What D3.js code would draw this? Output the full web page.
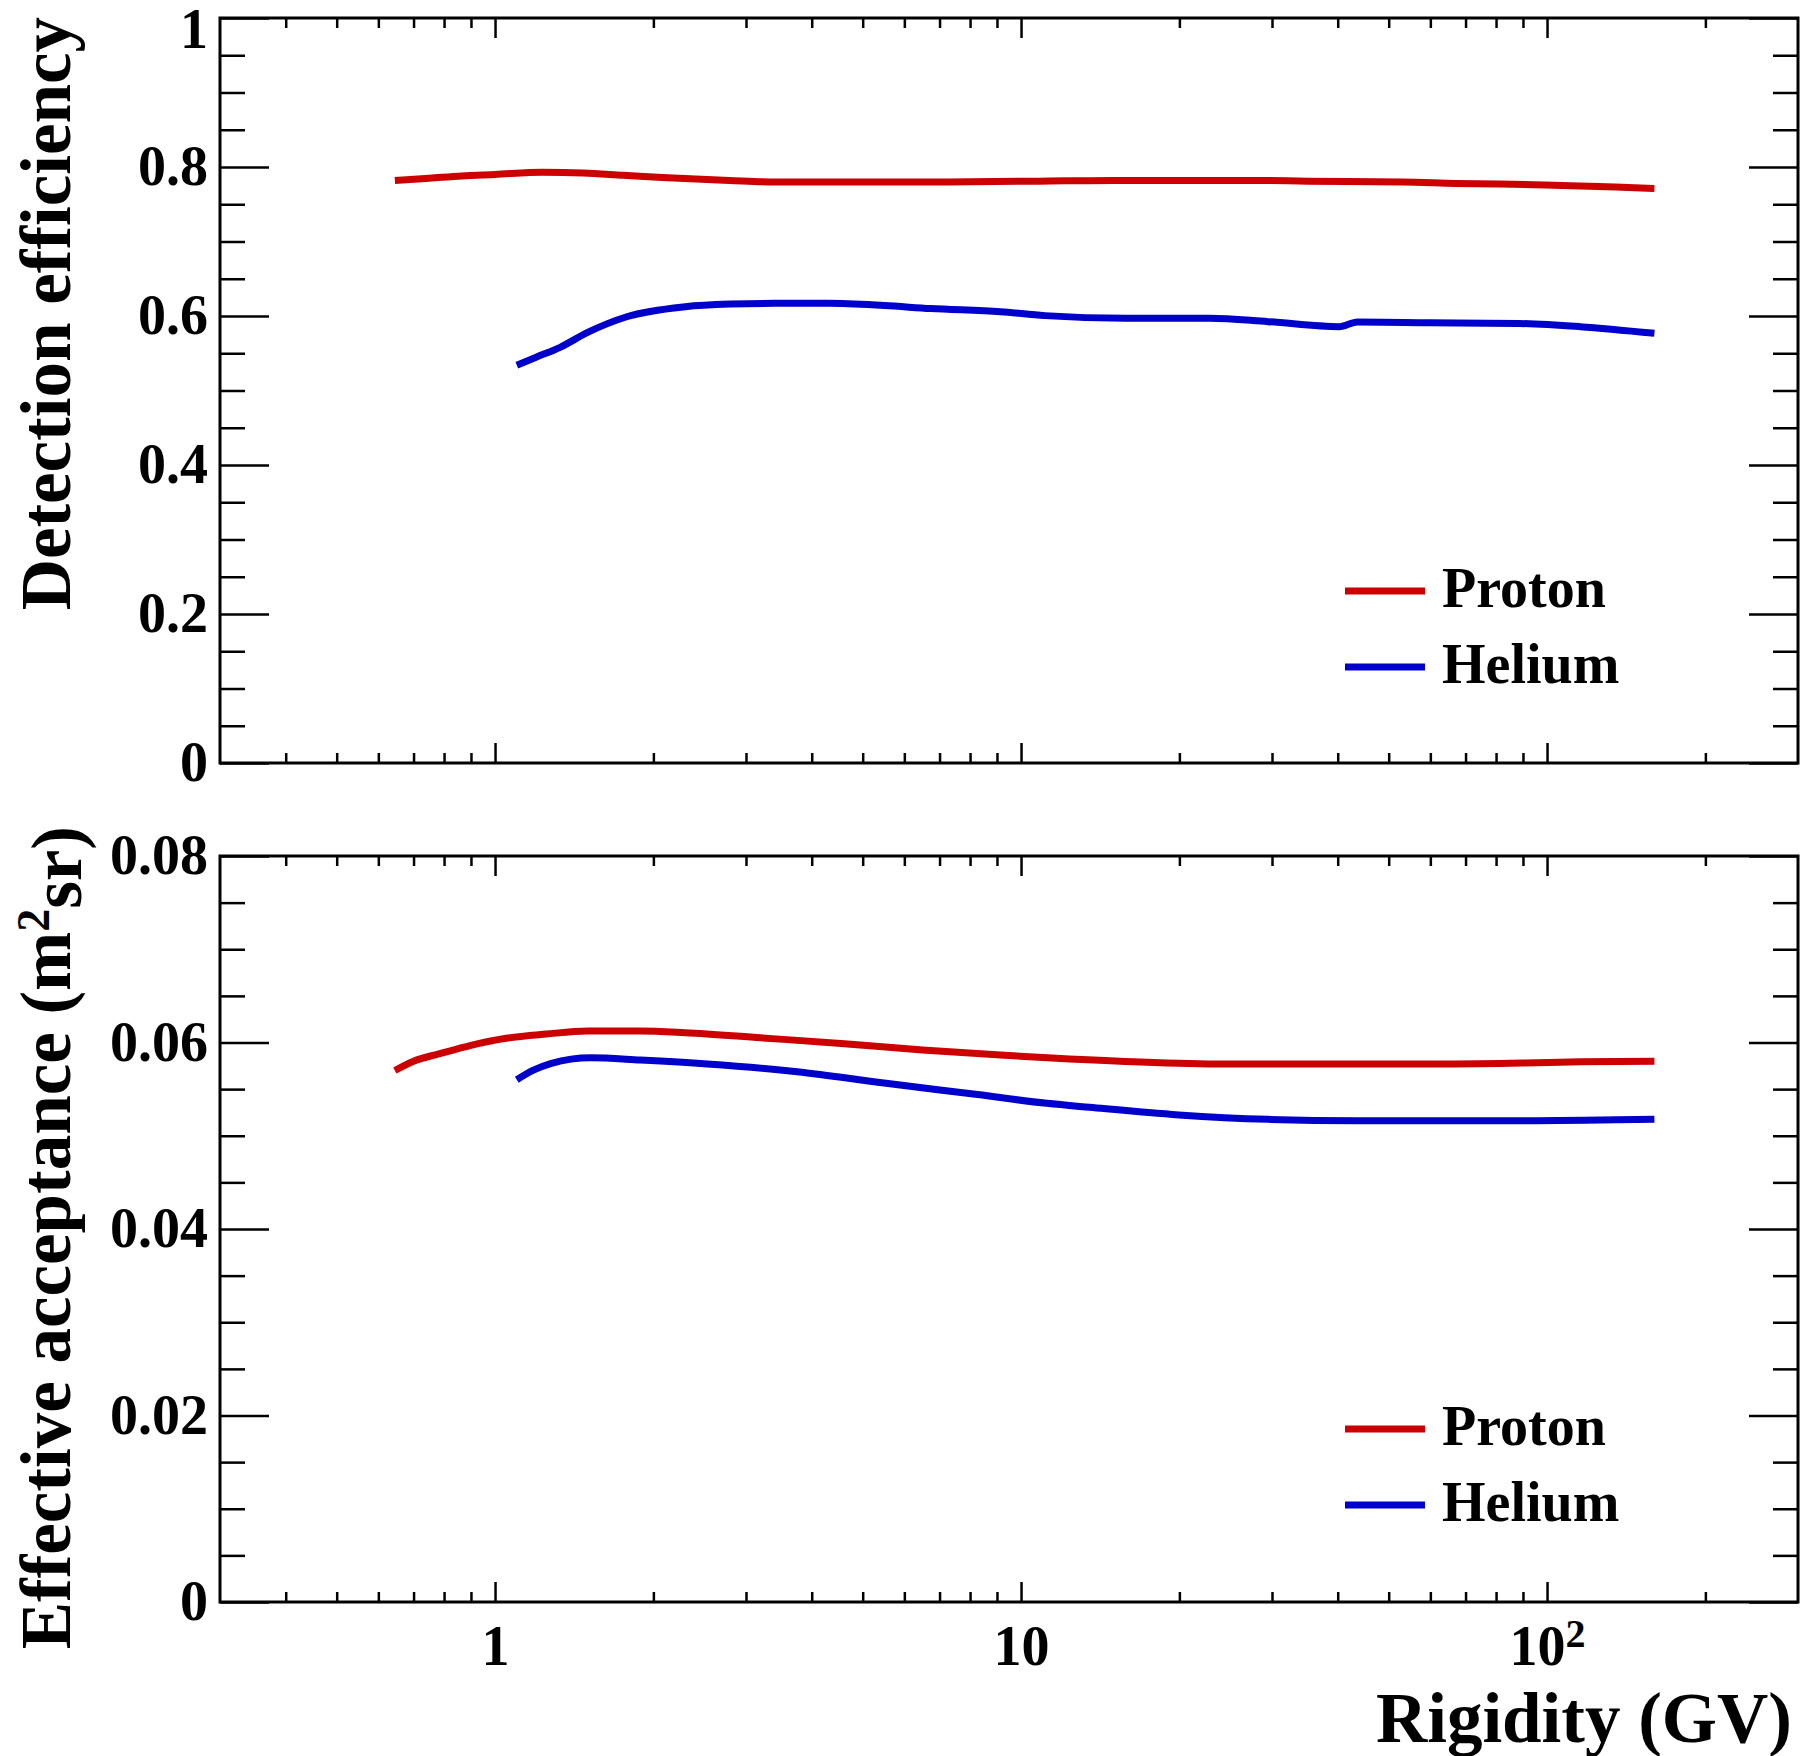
<!DOCTYPE html>
<html>
<head>
<meta charset="utf-8">
<script src="https://cdn.jsdelivr.net/npm/d3@7"></script>
<style>
    body { margin: 0; background: white; }
    svg { display: block; font-family: "Liberation Serif", "Times New Roman", serif; font-weight: bold; }
</style>
</head>
<body>
<svg id="chart" width="1800" height="1756"></svg>
<script>
// rigidity (GV) and values
const effProtonR = [0.645, 0.75, 0.865, 1.0, 1.23, 1.47, 1.75, 2.08, 2.79, 3.4, 5, 7, 10.8, 15, 20, 27.8, 35, 53, 67, 99, 135, 160];
const effProton = [0.782, 0.785, 0.788, 0.790, 0.793, 0.792, 0.789, 0.786, 0.782, 0.780, 0.780, 0.780, 0.781, 0.782, 0.782, 0.782, 0.781, 0.780, 0.778, 0.776, 0.773, 0.771];

const effHeliumR = [1.10, 1.2, 1.33, 1.5, 1.78, 2.3, 2.8, 3.4, 4.3, 5.5, 6.73, 9.14, 11.1, 15.8, 22.9, 29.5, 40.3, 43.6, 60, 88.2, 115.6, 160];
const effHelium = [0.534, 0.545, 0.558, 0.578, 0.599, 0.6125, 0.616, 0.617, 0.617, 0.614, 0.610, 0.6058, 0.6005, 0.597, 0.597, 0.5924, 0.5857, 0.592, 0.591, 0.590, 0.5857, 0.5768];

const accProtonR = [0.645, 0.7, 0.785, 0.9, 1.05, 1.25, 1.5, 1.89, 2.3, 3.2, 4.55, 6.5, 9.14, 11, 16.4, 24.3, 40, 64.4, 90, 115.6, 160];
const accProton = [0.0570, 0.0580, 0.0588, 0.0597, 0.06045, 0.0609, 0.06123, 0.06123, 0.06105, 0.0605, 0.0599, 0.0592, 0.05866, 0.0584, 0.05794, 0.0577, 0.0577, 0.0577, 0.0578, 0.05794, 0.0580];

const accHeliumR = [1.10, 1.18, 1.28, 1.52, 1.89, 2.53, 3.75, 5.54, 8.19, 11.2, 13.5, 19.95, 29.5, 43.6, 70, 95.3, 160];
const accHelium = [0.0560, 0.0570, 0.05777, 0.05837, 0.05812, 0.0577, 0.05687, 0.05562, 0.05444, 0.05348, 0.05305, 0.05223, 0.05176, 0.05162, 0.05162, 0.05162, 0.05176];

const xMajorTicks = [1, 10, 100];
const xMinorTicks = [0.4, 0.5, 0.6, 0.7, 0.8, 0.9, 2, 3, 4, 5, 6, 7, 8, 9, 20, 30, 40, 50, 60, 70, 80, 90, 200];
const effMajorTicks = [0, 0.2, 0.4, 0.6, 0.8, 1];
const accMajorTicks = [0, 0.02, 0.04, 0.06, 0.08];
const seriesNames = ["Proton", "Helium"];
const seriesColors = ["#cc0000", "#0000cc"];

const left = 220, right = 1798;
const svg = d3.select("#chart");

const x = d3.scaleLog().domain([0.3, 300]).range([left, right]);

function minorTicks(major, n) {
    const out = [];
    for (let i = 0; i < major.length - 1; i++) {
        const step = (major[i + 1] - major[i]) / n;
        for (let j = 1; j < n; j++) out.push(major[i] + j * step);
    }
    return out;
}

function drawPanel(opts) {
    const y = d3.scaleLinear().domain(opts.yDomain).range([opts.bottom, opts.top]);
    const g = svg.append("g");
    const yMinor = minorTicks(opts.yTicks, 4);

    // y axes, ticks pointing inward
    g.append("g").attr("transform", `translate(${left},0)`)
        .call(d3.axisLeft(y).tickValues(yMinor).tickSize(-25).tickFormat(""));
    const yl = g.append("g").attr("transform", `translate(${left},0)`)
        .call(d3.axisLeft(y).tickValues(opts.yTicks).tickSize(-49).tickPadding(12).tickFormat(d => String(d)));
    g.append("g").attr("transform", `translate(${right},0)`)
        .call(d3.axisRight(y).tickValues(yMinor).tickSize(-25).tickFormat(""));
    g.append("g").attr("transform", `translate(${right},0)`)
        .call(d3.axisRight(y).tickValues(opts.yTicks).tickSize(-49).tickFormat(""));

    // keep the top label inside the page
    if (opts.top < 30) {
        yl.selectAll(".tick text").filter(d => d === opts.yDomain[1]).attr("y", 12);
    }

    // x axes
    g.append("g").attr("transform", `translate(0,${opts.top})`)
        .call(d3.axisTop(x).tickValues(xMinorTicks).tickSize(-10).tickFormat(""));
    g.append("g").attr("transform", `translate(0,${opts.top})`)
        .call(d3.axisTop(x).tickValues(xMajorTicks).tickSize(-20).tickFormat(""));
    g.append("g").attr("transform", `translate(0,${opts.bottom})`)
        .call(d3.axisBottom(x).tickValues(xMinorTicks).tickSize(-10).tickFormat(""));
    const xb = g.append("g").attr("transform", `translate(0,${opts.bottom})`)
        .call(d3.axisBottom(x).tickValues(xMajorTicks).tickSize(-20).tickPadding(23)
            .tickFormat(d => opts.xLabels ? String(d) : ""));

    if (opts.xLabels) {
        xb.selectAll(".tick text").filter(d => d === 100).each(function () {
            const t = d3.select(this).text("");
            t.append("tspan").text("10");
            t.append("tspan").attr("dy", "-0.45em").attr("font-size", 40).text("2");
        });
    }

    g.selectAll(".domain").remove();
    g.selectAll(".tick line").attr("stroke", "#000").attr("stroke-width", 2.5);
    g.selectAll(".tick text").attr("fill", "#000").attr("font-size", 56)
        .attr("font-family", "Liberation Serif, serif").attr("font-weight", "bold");

    // frame
    g.append("rect")
        .attr("x", left).attr("y", opts.top)
        .attr("width", right - left).attr("height", opts.bottom - opts.top)
        .attr("fill", "none").attr("stroke", "#000").attr("stroke-width", 3);

    // curves
    const line = d3.line().x(d => x(d[0])).y(d => y(d[1])).curve(d3.curveMonotoneX);
    opts.series.forEach((s, i) => {
        g.append("path")
            .datum(d3.zip(s.r, s.v))
            .attr("d", line)
            .attr("fill", "none")
            .attr("stroke", seriesColors[i])
            .attr("stroke-width", 7)
            .attr("stroke-linejoin", "round");
    });

    // legend
    const legTop = opts.top + 573;
    seriesNames.forEach((name, i) => {
        const ly = legTop + i * 76;
        g.append("line")
            .attr("x1", 1345).attr("x2", 1425).attr("y1", ly).attr("y2", ly)
            .attr("stroke", seriesColors[i]).attr("stroke-width", 7);
        g.append("text")
            .attr("x", 1442).attr("y", ly + 16)
            .attr("font-size", 56).text(name);
    });

    // y title
    const yt = g.append("text")
        .attr("transform", `translate(70,${opts.titleEnd}) rotate(-90)`)
        .attr("text-anchor", "end")
        .attr("font-size", 71);
    opts.yTitle(yt);
}

drawPanel({
    top: 18, bottom: 763, titleEnd: 17,
    yDomain: [0, 1], yTicks: effMajorTicks, xLabels: false,
    series: [{ r: effProtonR, v: effProton }, { r: effHeliumR, v: effHelium }],
    yTitle: t => t.text("Detection efficiency")
});

drawPanel({
    top: 856, bottom: 1602, titleEnd: 826,
    yDomain: [0, 0.08], yTicks: accMajorTicks, xLabels: true,
    series: [{ r: accProtonR, v: accProton }, { r: accHeliumR, v: accHelium }],
    yTitle: t => {
        t.append("tspan").text("Effective acceptance (m");
        t.append("tspan").attr("dy", "-0.45em").attr("font-size", 46).text("2");
        t.append("tspan").attr("dy", "0.45em").text("sr)");
    }
});

// x title
svg.append("text")
    .attr("x", 1792).attr("y", 1742)
    .attr("text-anchor", "end")
    .attr("font-size", 71)
    .text("Rigidity (GV)");
</script>
</body>
</html>
